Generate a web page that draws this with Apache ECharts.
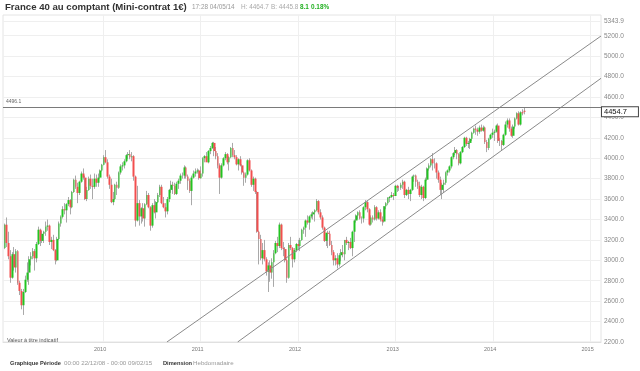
<!DOCTYPE html>
<html><head><meta charset="utf-8">
<script src="https://cdn.jsdelivr.net/npm/echarts@6/dist/echarts.min.js"></script>
<style>html,body{margin:0;padding:0;background:#fff}#c{width:640px;height:371px}</style>
</head><body><div id="c"></div>
<script>
// weekly candles [open, high, low, close]; each year array starts at its first Monday
const yearStarts = ['2008-12-29','2010-01-04','2011-01-03','2012-01-02','2013-01-07','2014-01-06'];
const w2009 = [
[3120,3360,3110,3349],[3349,3420,3130,3170],[3170,3280,3010,3040],[3040,3100,2780,2830],[2830,3080,2820,3060],
[3060,3130,2900,2930],[2930,3110,2880,3090],[3090,3100,2760,2780],[2780,2800,2660,2700],[2700,2720,2520,2560],
[2560,2720,2465,2690],[2690,2850,2680,2810],[2810,2980,2790,2880],[2880,3040,2760,3010],[3010,3080,2950,3040],
[3040,3120,3010,3090],[3090,3110,2900,3020],[3020,3180,2980,3160],[3160,3330,3150,3300],[3300,3310,3140,3190],
[3190,3290,3170,3260],[3260,3290,3170,3280],[3280,3380,3240,3330],[3330,3400,3290,3340],[3340,3350,3150,3180],
[3180,3230,3110,3200],[3200,3250,3090,3100],[3100,3110,2960,3000],[3000,3230,2990,3210],[3210,3380,3200,3360],
[3360,3440,3330,3426],[3426,3530,3410,3500],[3500,3560,3450,3490],[3490,3560,3370,3550],[3550,3620,3530,3590],
[3590,3600,3450,3520],[3520,3680,3510,3670],[3670,3800,3660,3790],[3790,3830,3700,3720],[3720,3760,3560,3660],
[3660,3780,3640,3770],[3770,3870,3760,3850],[3850,3900,3790,3810],[3810,3830,3590,3600],[3600,3720,3580,3690],
[3690,3820,3680,3800],[3800,3840,3700,3730],[3730,3800,3600,3720],[3720,3850,3700,3800],[3800,3840,3720,3760],
[3760,3850,3720,3810],[3810,3890,3800,3880],[3880,3945,3870,3936]
];
const w2010 = [
[3936,4030,3930,4010],[4010,4080,3950,3960],[3960,3990,3800,3820],[3820,3840,3700,3740],[3740,3800,3560,3570],
[3570,3670,3540,3600],[3600,3750,3590,3740],[3740,3770,3640,3710],[3710,3870,3700,3860],[3860,3940,3840,3920],
[3920,3960,3880,3930],[3930,3990,3900,3970],[3970,4040,3960,4030],[4030,4060,3990,4040],[4040,4080,3990,4010],
[4010,4060,3970,4020],[4020,4030,3780,3820],[3820,3830,3330,3390],[3390,3730,3380,3560],[3560,3590,3340,3430],
[3430,3520,3360,3510],[3510,3560,3380,3410],[3410,3560,3330,3550],[3550,3680,3540,3640],[3640,3660,3510,3520],
[3520,3530,3290,3340],[3340,3560,3320,3540],[3540,3600,3460,3470],[3470,3580,3410,3570],[3570,3660,3560,3640],
[3640,3740,3620,3720],[3720,3740,3550,3560],[3560,3620,3510,3520],[3520,3560,3420,3480],[3480,3620,3450,3600],
[3600,3700,3570,3690],[3690,3780,3660,3740],[3740,3770,3650,3730],[3730,3760,3640,3650],[3650,3770,3640,3750],
[3750,3800,3700,3780],[3780,3850,3750,3830],[3830,3860,3800,3830],[3830,3930,3800,3910],[3910,3920,3800,3820],
[3820,3840,3690,3780],[3780,3800,3660,3680],[3680,3830,3540,3810],[3810,3880,3800,3850],[3850,3900,3820,3870],
[3870,3900,3850,3880],[3880,3890,3790,3805]
];
const w2011 = [
[3805,3920,3800,3850],[3850,4010,3820,4000],[4000,4030,3960,4020],[4020,4060,3990,3960],[3960,4080,3950,4070],
[4070,4120,4040,4100],[4100,4160,4090,4150],[4150,4160,4020,4070],[4070,4110,3990,4020],[4020,4050,3900,3930],
[3930,3950,3650,3810],[3810,3950,3800,3930],[3930,4010,3920,4000],[4000,4060,3980,4040],[4040,4050,3940,3960],
[3960,4020,3880,4010],[4010,4110,4000,4100],[4100,4150,4010,4030],[4030,4080,3990,4010],[4010,4030,3930,3940],
[3940,4000,3880,3990],[3990,4020,3920,3930],[3930,3940,3840,3860],[3860,3870,3730,3810],[3810,3860,3760,3840],
[3840,3990,3830,3980],[3980,4000,3870,3880],[3880,3890,3720,3740],[3740,3820,3680,3800],[3800,3810,3650,3670],
[3670,3680,3270,3280],[3280,3290,2960,3210],[3210,3250,3000,3020],[3020,3170,2960,3100],[3100,3200,2990,3010],
[3010,3030,2850,2890],[2890,2980,2690,2950],[2950,3000,2790,2880],[2880,3020,2820,2980],[2980,3100,2740,3070],
[3070,3190,3060,3170],[3170,3230,3080,3140],[3140,3370,3120,3350],[3350,3360,3100,3120],[3120,3180,3040,3110],
[3110,3130,2980,3000],[3000,3010,2780,2830],[2830,3170,2820,3150],[3150,3230,3100,3120],[3120,3130,2930,3010],
[3010,3120,2980,3100],[3100,3170,3080,3160]
];
const w2012 = [
[3160,3200,3100,3140],[3140,3220,3090,3200],[3200,3310,3190,3300],[3300,3330,3260,3320],[3320,3400,3230,3390],
[3390,3440,3350,3370],[3370,3440,3300,3430],[3430,3470,3410,3450],[3450,3480,3400,3470],[3470,3500,3380,3490],
[3490,3600,3480,3580],[3580,3590,3450,3470],[3470,3500,3400,3420],[3420,3440,3300,3320],[3320,3330,3180,3190],
[3190,3270,3140,3270],[3270,3290,3120,3260],[3260,3290,3140,3150],[3150,3190,3050,3080],[3080,3100,2950,3000],
[3000,3050,2950,3020],[3020,3070,2920,2960],[2960,3070,2940,3050],[3050,3110,2990,3080],[3080,3150,3030,3060],
[3060,3200,3000,3200],[3200,3230,3150,3170],[3170,3190,3100,3180],[3180,3220,3110,3120],[3120,3290,3040,3280],
[3280,3400,3180,3390],[3390,3450,3370,3440],[3440,3480,3400,3470],[3470,3490,3400,3410],[3410,3430,3360,3410],
[3410,3530,3370,3520],[3520,3590,3490,3570],[3570,3580,3470,3500],[3500,3510,3340,3350],[3350,3440,3340,3420],
[3420,3440,3370,3400],[3400,3540,3390,3520],[3520,3530,3390,3410],[3410,3490,3400,3470],[3470,3500,3380,3400],
[3400,3430,3340,3380],[3380,3530,3370,3530],[3530,3570,3500,3560],[3560,3620,3540,3610],[3610,3630,3570,3620],
[3620,3670,3610,3640],[3640,3660,3590,3630],[3630,3740,3630,3730]
];
const w2013 = [
[3730,3740,3670,3710],[3710,3730,3680,3710],[3710,3760,3690,3740],[3740,3790,3700,3770],[3770,3780,3610,3640],
[3640,3700,3630,3690],[3690,3720,3600,3650],[3650,3700,3580,3690],[3690,3830,3680,3820],[3820,3840,3770,3830],
[3830,3840,3720,3770],[3770,3790,3700,3730],[3730,3770,3620,3640],[3640,3740,3600,3720],[3720,3730,3580,3610],
[3610,3810,3600,3790],[3790,3910,3780,3900],[3900,3950,3880,3930],[3930,4000,3910,3990],[3990,4050,3880,3950],
[3950,4000,3900,3950],[3950,3960,3800,3860],[3860,3880,3760,3790],[3790,3820,3640,3690],[3690,3760,3600,3740],
[3740,3790,3660,3760],[3760,3870,3740,3860],[3860,3890,3830,3880],[3880,3930,3860,3920],[3920,4020,3900,4010],
[4010,4060,3990,4050],[4050,4110,4030,4080],[4080,4090,3990,4040],[4040,4050,3930,3950],[3950,4070,3940,4060],
[4060,4120,4050,4110],[4110,4210,4100,4200],[4200,4210,4120,4140],[4140,4170,4100,4150],[4150,4200,4090,4190],
[4190,4260,4170,4250],[4250,4300,4240,4290],[4290,4320,4230,4280],[4280,4300,4220,4260],[4260,4320,4240,4300],
[4300,4330,4260,4270],[4270,4320,4260,4300],[4300,4310,4140,4160],[4160,4180,4060,4100],[4100,4200,4080,4190],
[4190,4240,4180,4230],[4230,4290,4200,4250]
];
const w2014 = [
[4250,4280,4170,4260],[4260,4330,4250,4320],[4320,4340,4150,4170],[4170,4200,4120,4170],[4170,4180,4080,4130],
[4130,4240,4120,4230],[4230,4360,4220,4330],[4330,4390,4300,4370],[4370,4390,4260,4290],[4290,4310,4210,4220],
[4220,4330,4200,4310],[4310,4400,4290,4390],[4390,4450,4380,4440],[4440,4460,4320,4330],[4330,4460,4320,4450],
[4450,4480,4420,4440],[4465,4496.1,4430,4454.7]
];
const yearTicks = ['2010-01-01','2011-01-01','2012-01-01','2013-01-01','2014-01-01','2015-01-01'];
const yTickLabels = [2200,2400,2600,2800,3000,3200,3400,3600,3800,4000,4200,4400,4600,4800,5000,5200,5343.9];
const channelUpper = [['2010-08-28',2200],['2015-02-09',5197]];
const channelLower = [['2011-05-20',2200],['2015-02-09',4783]];
const refLevel = 4496.1;
const lastPrice = 4454.7;
const periodStart = '2008-12-22';
const periodEnd = '2015-02-09';

function parseDay(s, addDays) {
  const p = s.split('-').map(Number);
  return new Date(p[0], p[1] - 1, p[2] + (addDays || 0)).getTime();
}
const years = [w2009, w2010, w2011, w2012, w2013, w2014];
const wickData = [], bodyData = [];
years.forEach((rows, yi) => {
  rows.forEach((r, i) => {
    const t = parseDay(yearStarts[yi], i * 7);
    const o = r[0], h = r[1], l = r[2], c = r[3];
    wickData.push([t, o, c, l, h]);
    bodyData.push([t, o, c, Math.min(o, c), Math.max(o, c)]);
  });
});
const toPts = arr => arr.map(p => [parseDay(p[0]), p[1]]);
const xTickVals = yearTicks.map(s => parseDay(s));

const FF = '"Liberation Sans", Arial, sans-serif';
const chart = echarts.init(document.getElementById('c'), null, {renderer: 'canvas', width: 640, height: 371});
chart.setOption({
  animation: false,
  backgroundColor: '#fff',
  grid: {left: 3, right: 39, top: 15, bottom: 29, show: true, borderColor: '#e4e4e4', borderWidth: 1, containLabel: false, outerBoundsMode: 'none'},
  xAxis: {
    type: 'value', min: parseDay(periodStart), max: parseDay(periodEnd),
    axisLine: {show: true, lineStyle: {color: '#e0e0e0'}},
    axisTick: {show: false, customValues: xTickVals},
    axisLabel: {customValues: xTickVals, formatter: v => String(new Date(v).getFullYear()),
      fontSize: 5.5, color: '#777', fontFamily: FF, margin: 4, padding: [0, 6, 0, 0]},
    splitLine: {show: true, lineStyle: {color: '#efefef', width: 1}}
  },
  yAxis: {
    type: 'value', position: 'right', min: 2200, max: 5403, interval: 200,
    axisLine: {show: false}, axisTick: {show: false, customValues: yTickLabels},
    axisLabel: {customValues: yTickLabels, formatter: v => Number(v).toFixed(1), fontSize: 6.5, color: '#888', fontFamily: FF, margin: 3, padding: [2, 0, 0, 0]},
    splitLine: {show: true, lineStyle: {color: '#efefef', width: 1}}
  },
  series: [
    {type: 'candlestick', name: 'wick', data: wickData, barWidth: 1, silent: true,
      itemStyle: {color: '#b8b8b8', color0: '#b8b8b8', borderColor: '#a9a9a9', borderColor0: '#a9a9a9', borderColorDoji: '#a9a9a9', borderWidth: 1}},
    {type: 'candlestick', name: 'body', data: bodyData, barWidth: 2.2, silent: true,
      itemStyle: {color: '#22c422', color0: '#f24f4f', borderColor: '#22c422', borderColor0: '#f24f4f', borderColorDoji: '#999', borderWidth: 0}},
    {type: 'line', name: 'upper', data: toPts(channelUpper), showSymbol: false, silent: true, clip: true,
      lineStyle: {color: '#8a8a8a', width: 1}, z: 3,
      markLine: {symbol: ['none', 'none'], silent: true, animation: false,
        data: [
          {yAxis: refLevel, lineStyle: {color: '#7a7a7a', width: 1, type: 'solid'},
            label: {show: true, position: 'insideStartTop', formatter: String(refLevel), fontSize: 5, color: '#666', fontFamily: FF, distance: 3}}
        ]}},
    {type: 'line', name: 'lower', data: toPts(channelLower), showSymbol: false, silent: true, clip: true,
      lineStyle: {color: '#8a8a8a', width: 1}, z: 3,
      markLine: {symbol: ['none', 'none'], silent: true, animation: false,
        data: [
          {yAxis: lastPrice, lineStyle: {color: 'rgba(255,255,255,0)', width: 1},
            label: {show: true, position: 'end', formatter: lastPrice.toFixed(1), distance: 1, backgroundColor: '#fff',
              borderColor: '#444', borderWidth: 1, padding: [1, 11, 0, 2], fontSize: 7.5, lineHeight: 8, color: '#111', fontFamily: FF}}
        ]}}
  ],
  graphic: [
    {type: 'text', left: 5, top: 2, style: {text: 'France 40 au comptant (Mini-contrat 1€)', fontSize: 9.6, fontWeight: 'bold', fontFamily: FF, fill: '#333'}},
    {type: 'text', left: 192, top: 4, style: {text: '17:28 04/05/14', fontSize: 6.4, fontFamily: FF, fill: '#999'}},
    {type: 'text', left: 241, top: 4, style: {text: 'H: 4464.7', fontSize: 6.4, fontFamily: FF, fill: '#aaa'}},
    {type: 'text', left: 271, top: 4, style: {text: 'B: 4445.8', fontSize: 6.4, fontFamily: FF, fill: '#aaa'}},
    {type: 'text', left: 300, top: 4, style: {text: '8.1', fontSize: 6.4, fontWeight: 'bold', fontFamily: FF, fill: '#22b022'}},
    {type: 'text', left: 311, top: 4, style: {text: '0.18%', fontSize: 6.4, fontWeight: 'bold', fontFamily: FF, fill: '#22b022'}},
    {type: 'text', left: 7, top: 337.5, z: 10, style: {text: 'Valeur à titre indicatif', fontSize: 5.5, fontFamily: FF, fill: '#555'}},
    {type: 'text', left: 10, top: 360.5, style: {text: 'Graphique Période', fontSize: 5.7, fontWeight: 'bold', fontFamily: FF, fill: '#333'}},
    {type: 'text', left: 64, top: 360.5, style: {text: '00:00 22/12/08 - 00:00 09/02/15', fontSize: 6.2, fontFamily: FF, fill: '#999'}},
    {type: 'text', left: 163, top: 360.5, style: {text: 'Dimension', fontSize: 5.7, fontWeight: 'bold', fontFamily: FF, fill: '#333'}},
    {type: 'text', left: 193, top: 360.5, style: {text: 'Hebdomadaire', fontSize: 6.2, fontFamily: FF, fill: '#999'}}
  ]
});
</script>
</body></html>
